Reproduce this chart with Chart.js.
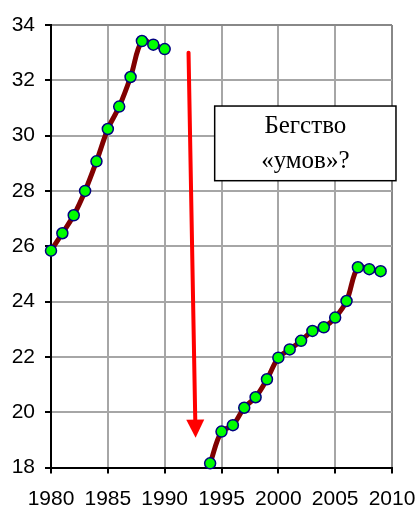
<!DOCTYPE html>
<html>
<head>
<meta charset="utf-8">
<style>
  html, body { margin: 0; padding: 0; background: #ffffff; }
  #wrap { width: 418px; height: 508px; position: relative; }
</style>
<script src="https://cdn.jsdelivr.net/npm/chart.js@4.4.1/dist/chart.umd.min.js"></script>
</head>
<body>
<div id="wrap"><canvas id="c" width="418" height="508"></canvas></div>
<script>
// ---- Data ----
const years = [1980,1981,1982,1983,1984,1985,1986,1987,1988,1989,1990,1991,1992,1993,1994,1995,1996,1997,1998,1999,2000,2001,2002,2003,2004,2005,2006,2007,2008,2009];
const values = [25.84,26.47,27.12,28.0,29.07,30.24,31.05,32.12,33.42,33.29,33.13,null,null,null,18.15,19.30,19.53,20.16,20.54,21.19,21.97,22.27,22.58,22.94,23.07,23.42,24.02,25.24,25.17,25.10];
const xTicks = [1980,1985,1990,1995,2000,2005,2010];
const yTicks = [18,20,22,24,26,28,30,32,34];
const noteLines = ['Бегство', '«умов»?'];

// ---- Annotation placement (data coordinates) ----
const arrowFrom = {x: 1992.1, y: 33.0};
const arrowTo = {x: 1992.72, y: 19.08};
const noteBox = {x1: 1994.4, y1: 31.07, x2: 2010.35, y2: 28.37};

const points = years.map((y, i) => ({x: y, y: values[i]}));

const annotationPlugin = {
  id: 'annot',
  afterDatasetsDraw(chart) {
    const ctx = chart.ctx;
    const xs = chart.scales.x, ys = chart.scales.y;
    // arrow
    const x0 = xs.getPixelForValue(arrowFrom.x), y0 = ys.getPixelForValue(arrowFrom.y);
    const x1 = xs.getPixelForValue(arrowTo.x), y1 = ys.getPixelForValue(arrowTo.y);
    const ang = Math.atan2(y1 - y0, x1 - x0);
    const headLen = 18, headHalf = 9;
    const bx = x1 - headLen * Math.cos(ang), by = y1 - headLen * Math.sin(ang);
    ctx.save();
    ctx.strokeStyle = '#ff0000';
    ctx.fillStyle = '#ff0000';
    ctx.lineWidth = 4;
    ctx.lineCap = 'round';
    ctx.beginPath();
    ctx.moveTo(x0, y0);
    ctx.lineTo(bx, by);
    ctx.stroke();
    ctx.beginPath();
    ctx.moveTo(x1, y1);
    ctx.lineTo(bx + headHalf * Math.sin(ang), by - headHalf * Math.cos(ang));
    ctx.lineTo(bx - headHalf * Math.sin(ang), by + headHalf * Math.cos(ang));
    ctx.closePath();
    ctx.fill();
    // note box
    const bx1 = xs.getPixelForValue(noteBox.x1), by1 = ys.getPixelForValue(noteBox.y1);
    const bx2 = xs.getPixelForValue(noteBox.x2), by2 = ys.getPixelForValue(noteBox.y2);
    ctx.fillStyle = '#ffffff';
    ctx.fillRect(bx1, by1, bx2 - bx1, by2 - by1);
    ctx.strokeStyle = '#000000';
    ctx.lineWidth = 1.5;
    ctx.strokeRect(bx1, by1, bx2 - bx1, by2 - by1);
    ctx.fillStyle = '#000000';
    ctx.font = '25px "Liberation Serif", "Times New Roman", serif';
    ctx.textAlign = 'center';
    ctx.textBaseline = 'alphabetic';
    const cx = (bx1 + bx2) / 2;
    ctx.fillText(noteLines[0], cx, by1 + 26.7);
    ctx.fillText(noteLines[1], cx, by1 + 62);
    ctx.restore();
  }
};

const tickFont = {family: '"Liberation Sans", Arial, sans-serif', size: 21};

new Chart(document.getElementById('c'), {
  type: 'line',
  data: {
    datasets: [{
      data: points,
      borderColor: '#800000',
      borderWidth: 5,
      tension: 0.35,
      spanGaps: false,
      clip: false,
      pointRadius: 5.5,
      pointBorderWidth: 1.5,
      pointBackgroundColor: '#00ff00',
      pointBorderColor: '#000080'
    }]
  },
  options: {
    responsive: false,
    animation: false,
    events: [],
    layout: {padding: {top: 25, right: 26, left: 0, bottom: 0}},
    plugins: {legend: {display: false}, tooltip: {enabled: false}, title: {display: false}},
    scales: {
      x: {
        type: 'linear',
        min: 1980, max: 2010,
        afterBuildTicks: (s) => { s.ticks = xTicks.map(v => ({value: v})); },
        afterFit: (s) => { s.height = 40.5; s.paddingLeft = 0; s.paddingRight = 0; },
        ticks: {font: tickFont, color: '#000', padding: 13, maxRotation: 0, autoSkip: false,
                callback: (v) => String(v)},
        grid: {
          color: (c) => (c.tick && c.tick.value === 2010) ? '#888888' : '#a6a6a6',
          lineWidth: 2,
          drawTicks: true,
          tickLength: 6,
          tickColor: '#000000',
          tickWidth: 2
        },
        border: {display: true, color: '#000000', width: 2}
      },
      y: {
        min: 18, max: 34,
        afterBuildTicks: (s) => { s.ticks = yTicks.map(v => ({value: v})); },
        afterFit: (s) => { s.width = 51; s.paddingTop = 0; s.paddingBottom = 0; },
        ticks: {font: tickFont, color: '#000', padding: 10, autoSkip: false,
                callback: (v) => String(v)},
        grid: {
          color: (c) => (c.tick && c.tick.value === 34) ? '#888888' : '#a6a6a6',
          lineWidth: 2,
          drawTicks: true,
          tickLength: 6,
          tickColor: '#000000',
          tickWidth: 2
        },
        border: {display: true, color: '#000000', width: 2}
      }
    }
  },
  plugins: [annotationPlugin]
});
</script>
</body>
</html>
